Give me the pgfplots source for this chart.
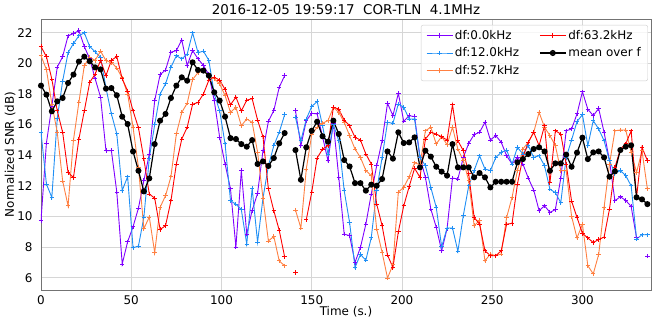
\documentclass[border=0pt]{standalone}
\usepackage{fontspec}
\setmainfont{DejaVu Sans}
\usepackage{pgfplots}
\usepackage{pgfplotstable}
\pgfplotsset{compat=1.18}
\definecolor{cP}{rgb}{0.5,0,1}
\definecolor{cB}{rgb}{0.12,0.56,0.96}
\definecolor{cO}{rgb}{1,0.5,0.26}
\definecolor{cR}{rgb}{1,0,0}

\pgfplotstableread{
t p b o r m
0 9.73 15.5 20.5 21.1 18.55
3 14.8 12.12 19.6 20.44 17.96
6 17.2 11.25 17.35 18.98 16.87
9 19.75 16.4 15.5 16.9 17.52
12 20.45 18.85 12.32 15.5 17.74
15 21.8 20.7 10.7 12.87 18.72
18 21.95 21.3 15.0 12.55 19.27
21 22.14 21.8 17.46 15.06 20.12
24 21.1 22.0 19.86 16.9 20.44
27 20.3 21.1 20.4 18.77 20.14
30 19.0 20.75 20.2 19.3 19.74
33 17.8 20.4 20.8 20.2 19.61
36 14.3 18.4 20.18 19.2 18.35
39 14.3 16.7 20.07 20.2 18.39
42 11.6 15.4 19.7 20.45 17.92
45 6.9 11.7 19.05 19.0 16.52
48 8.35 12.6 18.0 18.2 16.04
51 9.33 7.96 15.83 16.9 14.25
54 10.55 8.07 13.2 15.8 12.99
57 12.34 9.95 9.2 13.76 11.64
60 14.08 13.8 9.97 11.47 12.49
63 17.57 16.0 7.64 11.2 14.73
66 19.27 18.0 10.6 9.15 16.26
69 19.57 18.66 11.36 9.4 16.7
72 20.73 19.75 12.6 11.02 17.74
75 20.84 20.5 15.4 13.43 18.55
78 21.53 20.3 16.8 15.06 19.09
81 19.86 20.6 17.4 15.83 18.87
84 20.84 22.0 18.95 17.33 20.07
87 20.3 20.7 19.4 17.45 19.57
90 19.86 20.8 19.5 18.0 19.53
93 19.27 20.2 19.2 18.9 19.2
96 17.57 18.0 19.0 19.1 18.11
99 15.17 16.9 18.66 18.9 17.57
102 13.43 14.74 17.9 18.3 16.52
105 11.8 11.03 16.8 17.3 15.12
108 8.0 10.8 17.13 17.8 15.06
111 13.0 10.45 15.93 16.9 14.73
114 8.85 8.2 16.37 17.6 14.56
117 10.4 11.82 16.15 17.7 14.99
120 11.51 8.33 14.2 16.3 13.43
123 14.3 11.2 11.2 15.2 13.6
126 16.22 13.3 8.4 11.8 13.3
129 16.92 14.63 8.7 10.38 13.82
132 18.44 15.5 7.1 9.1 14.78
135 19.2 16.65 6.78 7.37 15.45
138 nan nan nan nan nan
141 16.92 16.48 10.42 6.33 14.34
144 14.63 14.95 9.25 nan 12.4
147 16.26 16.37 13.1 9.79 14.52
150 16.74 17.18 15.35 11.58 15.6
153 16.7 17.52 15.83 13.82 16.19
156 15.22 15.93 16.09 14.4 15.24
159 13.65 14.08 16.26 14.63 14.89
162 16.09 16.0 17.13 17.13 16.26
165 12.56 14.95 16.8 17.02 15.39
168 8.85 11.69 16.15 16.3 13.69
171 8.75 9.6 15.28 15.93 13.27
174 7.0 6.67 14.4 15.17 12.18
177 7.98 7.52 13.86 15.0 12.18
180 9.5 7.15 13.0 14.08 11.69
183 11.47 8.62 12.67 13.43 12.08
186 13.32 11.69 9.18 10.81 12.01
189 14.95 13.86 7.66 9.4 12.45
192 17.39 16.15 5.98 7.48 14.25
195 16.59 16.09 6.85 6.67 13.78
198 18.05 17.35 11.6 9.0 15.5
201 16.22 17.13 11.9 10.7 14.8
204 16.59 16.37 12.6 11.95 14.84
207 16.52 16.37 13.5 13.15 15.17
210 13.86 13.86 13.4 12.56 13.21
213 12.56 13.32 15.6 15.06 14.3
216 10.49 11.9 15.83 15.5 13.91
219 9.3 10.6 14.74 15.39 13.25
222 7.76 8.03 15.22 15.2 12.93
225 9.2 9.25 14.7 15.0 12.67
228 12.51 9.25 15.83 17.3 14.73
231 12.45 7.73 14.4 14.95 13.21
234 13.86 10.07 13.65 14.3 13.21
237 14.78 12.0 12.34 12.78 13.21
240 15.35 13.0 9.4 9.94 12.56
243 15.5 13.97 9.73 9.5 12.84
246 16.15 13.1 7.11 7.76 12.56
249 15.0 13.0 7.55 7.44 11.9
252 15.28 13.86 7.44 7.44 12.27
255 14.85 14.19 7.55 7.76 12.27
258 13.97 14.34 9.94 9.5 12.27
261 13.43 13.43 11.25 9.55 12.27
264 13.86 14.52 13.0 12.12 13.54
267 13.43 14.08 14.41 13.86 13.75
270 12.51 14.63 14.85 14.85 14.08
273 11.73 13.86 15.5 15.5 14.41
276 10.38 13.97 16.8 14.63 14.52
279 10.7 13.32 15.83 15.93 14.25
282 10.27 11.78 15.28 12.2 12.99
285 10.45 11.56 14.63 15.6 13.47
288 12.5 10.9 13.0 15.39 13.47
291 15.6 13.86 13.0 13.43 14.04
294 15.72 15.0 10.0 11.0 13.25
297 16.7 16.2 8.6 9.94 14.17
300 18.15 16.65 9.5 8.9 15.15
303 17.0 14.63 6.78 8.6 13.75
306 16.59 16.26 6.25 8.3 14.19
309 17.05 15.72 7.52 8.5 14.25
312 15.5 14.95 10.6 8.65 13.86
315 13.65 13.65 13.43 10.49 12.6
318 11.03 12.82 15.6 13.2 12.95
321 11.29 13.0 15.65 14.4 14.34
324 11.05 12.67 15.65 14.74 14.56
327 10.66 12.0 14.19 15.6 14.65
330 8.6 8.53 12.88 11.25 11.25
333 nan 8.81 14.3 14.52 11.12
336 7.41 8.81 11.8 13.65 10.81
}\data

\begin{document}
\begin{tikzpicture}
\begin{axis}[
  scale only axis, width=610bp, height=271bp,
  at={(0,0)}, anchor=south west,
  xmin=0, xmax=338, ymin=5.2, ymax=22.9,
  xtick={0,50,...,300}, ytick={6,8,...,22},
  grid=major, major grid style={color=black!16, line width=0.8bp},
  axis line style={color=black!55, line width=0.8bp},
  tick style={draw=none},
  /pgf/number format/assume math mode=true,
  ticklabel style={font=\fontsize{12}{14}\selectfont},
  xticklabel style={yshift=-2.5bp},
  yticklabel style={xshift=-5bp},
  xlabel={Time (s.)}, ylabel={Normalized SNR (dB)},
  label style={font=\fontsize{12}{14}\selectfont},
  x label style={at={(axis description cs:0.5,-0.0812)}, anchor=center},
  y label style={at={(axis description cs:-0.0508,0.5)}, anchor=center},
  title={2016-12-05 19:59:17\ \ COR-TLN\ \ 4.1MHz},
  every axis title/.style={at={(axis description cs:0.5,1.0332)}, anchor=center, font=\fontsize{13.5}{16}\selectfont},
  unbounded coords=jump,
  legend columns=2,
  legend cell align=left,
  legend style={at={(0.995,0.978)}, anchor=north east,
    font=\fontsize{12}{14}\selectfont, draw=black!20, rounded corners=2bp,
    fill=white, fill opacity=0.8, draw opacity=1, text opacity=1,
    inner xsep=5bp, inner ysep=3bp, row sep=3bp,
    /tikz/every even column/.append style={column sep=18bp}},
  legend image code/.code={\draw[mark repeat=2,mark phase=2] plot coordinates {(0bp,0bp) (13bp,0bp) (26bp,0bp)};},
]
\addplot[forget plot, cP, line width=0.9bp, mark=+, mark size=2.2bp] table[x=t,y=p]{\data};
\addplot[forget plot, cB, line width=0.9bp, mark=+, mark size=2.2bp] table[x=t,y=b]{\data};
\addplot[forget plot, cO, line width=0.9bp, mark=+, mark size=2.2bp] table[x=t,y=o]{\data};
\addplot[forget plot, cR, line width=0.9bp, mark=+, mark size=2.2bp] table[x=t,y=r]{\data};
\addplot[forget plot, black, line width=1.2bp, mark=*, mark size=2.4bp, mark options={fill=black}] table[x=t,y=m]{\data};
\addlegendimage{cP, line width=0.9bp, mark=+, mark size=2.2bp}
\addlegendentry{df:0.0kHz}
\addlegendimage{cR, line width=0.9bp, mark=+, mark size=2.2bp}
\addlegendentry{df:63.2kHz}
\addlegendimage{cB, line width=0.9bp, mark=+, mark size=2.2bp}
\addlegendentry{df:12.0kHz}
\addlegendimage{black, line width=1.2bp, mark=*, mark size=2.4bp, mark options={fill=black}}
\addlegendentry{mean over f}
\addlegendimage{cO, line width=0.9bp, mark=+, mark size=2.2bp}
\addlegendentry{df:52.7kHz}
\end{axis}
\pgfresetboundingbox
\path (-41bp,-30bp) rectangle (611bp,290bp);
\end{tikzpicture}
\end{document}
